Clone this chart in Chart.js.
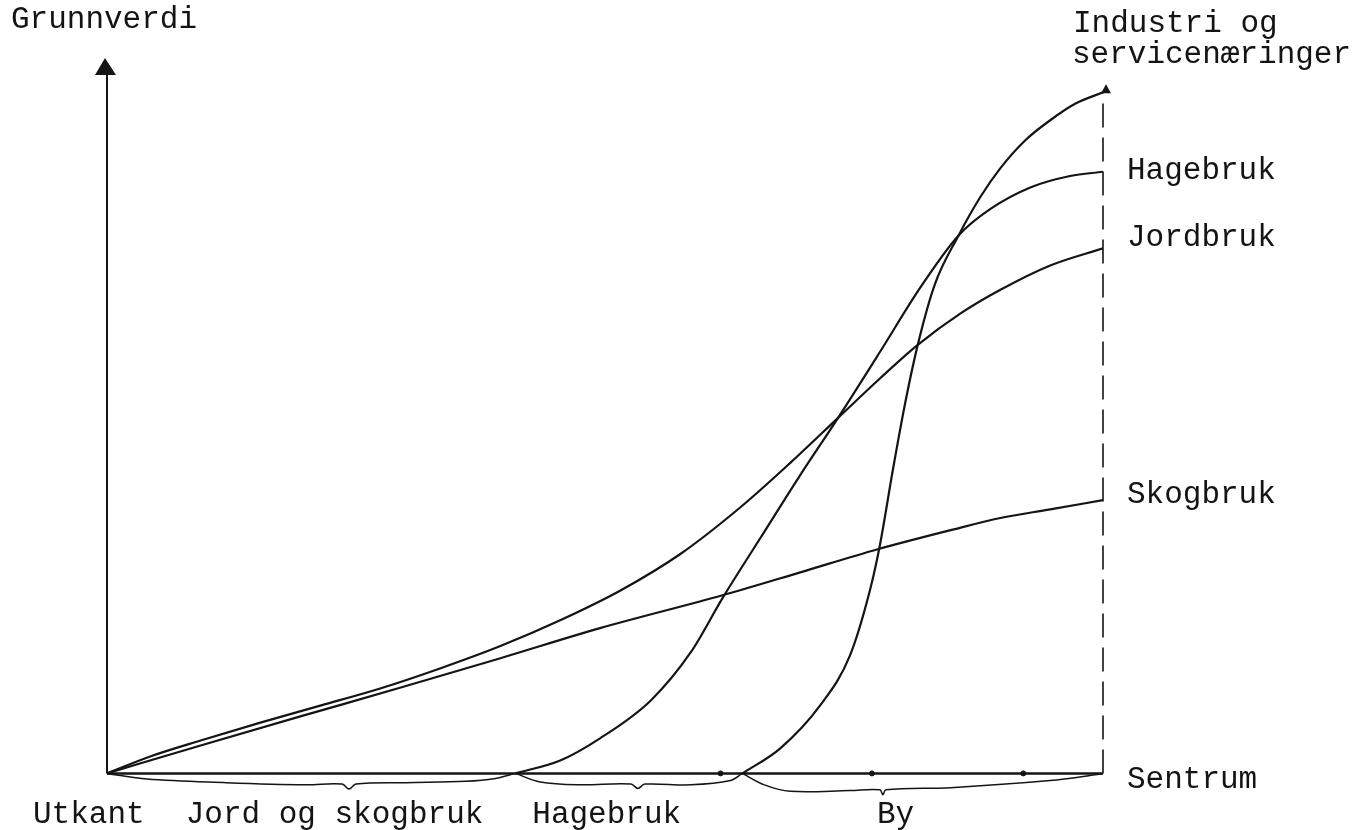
<!DOCTYPE html>
<html>
<head>
<meta charset="utf-8">
<script src="https://cdn.jsdelivr.net/npm/chart.js@4"></script>
<style>
  html, body { margin: 0; padding: 0; background: #ffffff; }
  #wrap { width: 1371px; height: 830px; }
</style>
</head>
<body>
<div id="wrap"><canvas id="c" width="1371" height="830"></canvas></div>
<script>
// ---- data (x: distance from outskirts 0 -> centre 100; y: land value 0..100) ----
const axisTitle = 'Grunnverdi';
const zoneLabels = ['Utkant', 'Jord og skogbruk', 'Hagebruk', 'By'];
const endLabels = ['Industri og', 'servicenæringer', 'Hagebruk', 'Jordbruk', 'Skogbruk', 'Sentrum'];

const industriX = [63.8, 67.6, 71.6, 74.6, 76.6, 77.6, 78.9, 80.1, 81.4, 83.1, 85.5, 87.7, 89.7, 92.2, 94.7, 97.2, 100];
const industriY = [0, 3.5, 9.5, 16.5, 25.6, 31.9, 42.4, 51.5, 59.9, 68.3, 75.2, 80.6, 84.6, 88.5, 91.3, 93.6, 95.2];

const hagebrukX = [41.0, 45.5, 49.5, 54.6, 58.6, 61.8, 65.6, 69.6, 73.4, 77.6, 81.6, 85.5, 88.7, 92.7, 96.7, 100];
const hagebrukY = [0, 1.8, 4.9, 10.2, 16.9, 24.5, 32.9, 41.7, 49.7, 58.9, 67.8, 75.2, 78.9, 81.9, 83.5, 84.1];

const jordbrukX = [0, 4.4, 9.4, 15.4, 21.5, 27.5, 33.5, 39.5, 45.5, 51.6, 57.6, 63.6, 68.6, 73.4, 77.6, 81.4, 85.7, 89.7, 94.7, 100];
const jordbrukY = [0, 2.4, 4.6, 7.1, 9.5, 11.9, 14.7, 17.8, 21.4, 25.6, 30.7, 37.2, 43.4, 49.7, 55.2, 59.9, 64.3, 67.6, 71.0, 73.4];

const skogbrukX = [0, 9.4, 19.5, 29.5, 39.5, 49.5, 61.8, 69.6, 77.3, 84.7, 89.7, 94.7, 100];
const skogbrukY = [0, 3.9, 8.0, 12.0, 16.1, 20.3, 24.9, 28.1, 31.3, 34.0, 35.7, 36.9, 38.2];

// braces under the axis marking the zones
const braceJordX = [0, 4, 12, 20, 23.6, 24.3, 25, 30, 36, 39, 41];
const braceJordY = [0, -0.8, -1.3, -1.6, -1.5, -2.2, -1.5, -1.3, -1.1, -0.7, 0];
const braceHageX = [41, 43.5, 47.5, 52.6, 53.3, 54.0, 58.6, 62.6, 63.8];
const braceHageY = [0, -1.2, -1.6, -1.5, -2.1, -1.5, -1.6, -1.0, 0];
const braceByX = [63.8, 66, 68.6, 74.6, 77.6, 77.9, 78.2, 84.7, 94.7, 99.2, 100];
const braceByY = [0, -1.6, -2.5, -2.4, -2.3, -3.0, -2.3, -2.0, -1.0, -0.2, 0];

const axisTickX = [61.6, 76.8, 92.0];

// ---- helpers ----
const pts = (xs, ys) => xs.map((v, i) => ({ x: v, y: ys[i] }));
const INK = '#141414';

function curve(label, xs, ys) {
  return { label, data: pts(xs, ys), borderColor: INK, borderWidth: 2.2, pointRadius: 0,
           cubicInterpolationMode: 'monotone', fill: false };
}
function brace(label, xs, ys) {
  return { label, data: pts(xs, ys), borderColor: INK, borderWidth: 1.5, pointRadius: 0,
           tension: 0.35, fill: false };
}

const annotate = {
  id: 'annotate',
  afterDatasetsDraw(chart) {
    const { ctx, scales: { x, y } } = chart;
    const x0 = x.getPixelForValue(0), x1 = x.getPixelForValue(100);
    const y0 = y.getPixelForValue(0), yTop = y.getPixelForValue(100);
    ctx.save();
    ctx.fillStyle = INK;
    // arrowhead on value axis
    ctx.beginPath();
    ctx.moveTo(x0 - 2, yTop);
    ctx.lineTo(x0 - 12, yTop + 17);
    ctx.lineTo(x0 + 9, yTop + 17);
    ctx.closePath();
    ctx.fill();
    // small arrowhead at top of dashed centre line
    const yEnd = y.getPixelForValue(industriY[industriY.length - 1]);
    ctx.beginPath();
    ctx.moveTo(x1 + 3, yEnd - 8);
    ctx.lineTo(x1 - 2, yEnd + 1);
    ctx.lineTo(x1 + 8, yEnd + 1);
    ctx.closePath();
    ctx.fill();

    ctx.font = '31px "Liberation Mono", "Courier New", monospace';
    ctx.textBaseline = 'alphabetic';
    ctx.textAlign = 'left';
    // axis title
    ctx.fillText(axisTitle, x0 - 96, yTop - 30);
    // end labels
    ctx.fillText(endLabels[0], x1 - 30, yTop - 26);
    ctx.fillText(endLabels[1], x1 - 31, yTop + 5);
    const lx = x1 + 24;
    ctx.fillText(endLabels[2], lx, y.getPixelForValue(hagebrukY[hagebrukY.length - 1]) + 7);
    ctx.fillText(endLabels[3], lx, y.getPixelForValue(jordbrukY[jordbrukY.length - 1]) - 2);
    ctx.fillText(endLabels[4], lx, y.getPixelForValue(skogbrukY[skogbrukY.length - 1]) + 3);
    ctx.fillText(endLabels[5], lx, y0 + 15);
    // zone labels under the axis
    const by = y0 + 50;
    ctx.fillText(zoneLabels[0], x0 - 74, by);
    ctx.fillText(zoneLabels[1], x.getPixelForValue(7.9), by);
    ctx.fillText(zoneLabels[2], x.getPixelForValue(42.7), by);
    ctx.fillText(zoneLabels[3], x.getPixelForValue(77.3), by);
    ctx.restore();
  }
};

new Chart(document.getElementById('c'), {
  type: 'line',
  data: {
    datasets: [
      curve('Industri og servicenæringer', industriX, industriY),
      curve('Hagebruk', hagebrukX, hagebrukY),
      curve('Jordbruk', jordbrukX, jordbrukY),
      curve('Skogbruk', skogbrukX, skogbrukY),
      { label: 'baseline', data: pts([0, 100], [0, 0]), borderColor: INK, borderWidth: 2.5, pointRadius: 0 },
      { label: 'value axis', data: pts([0, 0], [0, 98]), borderColor: INK, borderWidth: 2, pointRadius: 0, clip: false },
      { label: 'centre', data: pts([100, 100], [0, industriY[industriY.length - 1]]), borderColor: INK,
        borderWidth: 1.6, borderDash: [24, 10], pointRadius: 0, clip: false },
      brace('Jord og skogbruk', braceJordX, braceJordY),
      brace('Hagebruk zone', braceHageX, braceHageY),
      brace('By', braceByX, braceByY),
      { label: 'ticks', data: pts(axisTickX, axisTickX.map(() => 0)), showLine: false,
        pointRadius: 2.5, pointBackgroundColor: INK, pointBorderColor: INK }
    ]
  },
  options: {
    responsive: false,
    animation: false,
    events: [],
    layout: { padding: { left: 107, right: 268, top: 58, bottom: 28 } },
    scales: {
      x: { type: 'linear', min: 0, max: 100, display: false },
      y: { type: 'linear', min: -4, max: 100, display: false }
    },
    plugins: { legend: { display: false }, tooltip: { enabled: false } }
  },
  plugins: [annotate]
});
</script>
</body>
</html>
